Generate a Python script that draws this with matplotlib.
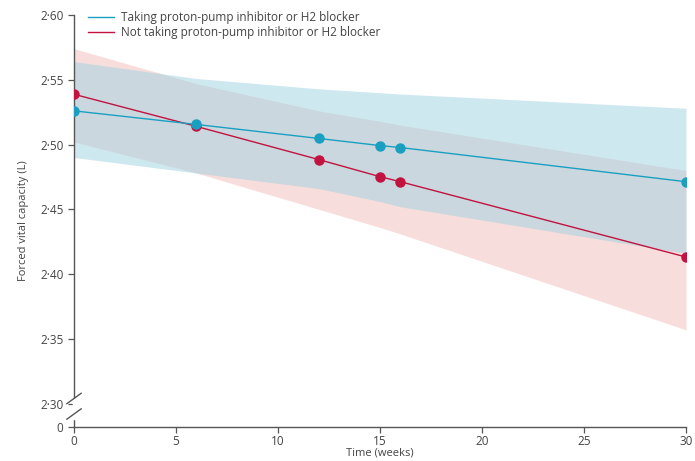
import numpy as np
import matplotlib.pyplot as plt

plt.rcParams['font.family'] = ['Open Sans', 'DejaVu Sans']

weeks = [0, 6, 12, 15, 16, 30]

# taking PPI / H2 blocker
taking = [2.526, 2.5155, 2.5047, 2.4992, 2.4977, 2.4713]
taking_hi = [2.564, 2.551, 2.543, 2.540, 2.539, 2.528]
taking_lo = [2.490, 2.478, 2.466, 2.456, 2.452, 2.416]

# not taking
nottaking = [2.5388, 2.514, 2.4884, 2.4752, 2.4713, 2.4132]
nottaking_hi = [2.574, 2.547, 2.526, 2.518, 2.515, 2.480]
nottaking_lo = [2.502, 2.478, 2.450, 2.436, 2.431, 2.357]

yticks = [2.30, 2.35, 2.40, 2.45, 2.50, 2.55, 2.60]
xticks = [0, 5, 10, 15, 20, 25, 30]
zero_pos = 2.282  # where the broken axis puts "0"

blue = '#1b9fc1'
red = '#c2123f'

fig = plt.figure(figsize=(6.95, 4.61), dpi=100)
ax = fig.add_axes([0.1065, 0.0738, 0.8805, 0.8937])

ax.fill_between(weeks, nottaking_lo, nottaking_hi, color='#f1bdb9', alpha=0.5, lw=0)
ax.fill_between(weeks, taking_lo, taking_hi, color='#9fd3e3', alpha=0.5, lw=0)

ax.plot(weeks, nottaking, color=red, lw=1.0, marker='o', ms=6.5, label='Not taking proton-pump inhibitor or H2 blocker', zorder=3)
ax.plot(weeks, taking, color=blue, lw=1.0, marker='o', ms=6.5, label='Taking proton-pump inhibitor or H2 blocker', zorder=4)

ax.set_xlim(0, 30)
ax.set_ylim(zero_pos, 2.60)
ax.set_xticks(xticks)
ax.set_xticklabels([str(x) for x in xticks])
ax.set_yticks(yticks + [zero_pos])
ax.set_yticklabels([('%.2f' % v).replace('.', '\u00b7') for v in yticks] + ['0'])

for s in ['top', 'right']:
    ax.spines[s].set_visible(False)
for s in ['left', 'bottom']:
    ax.spines[s].set_color('#555555')
    ax.spines[s].set_linewidth(1.0)
ax.tick_params(direction='out', length=4, width=0.9, colors='#555555', labelsize=8.5, labelcolor='#444444')
ax.tick_params(axis='x', pad=1.5)

# axis break marks
for dy in [0.0, 0.012]:
    ax.plot([-0.35, 0.35], [2.288 + dy, 2.296 + dy], color='#555555', lw=1.0, clip_on=False, zorder=6)
ax.plot([0, 0], [2.289, 2.303], color='white', lw=2.5, clip_on=False, zorder=5)

ax.set_xlabel('Time (weeks)', fontsize=8, color='#444444', labelpad=0)
ax.set_ylabel('Forced vital capacity (L)', fontsize=8, color='#444444', labelpad=8)

h, l = ax.get_legend_handles_labels()
leg = ax.legend(h[::-1], l[::-1], loc='upper left', bbox_to_anchor=(0.015, 1.02), frameon=False,
                fontsize=8.5, handlelength=2.2, handletextpad=0.6, labelspacing=0.15, borderaxespad=0)
for line in leg.get_lines():
    line.set_marker('')
for t in leg.get_texts():
    t.set_color('#444444')

fig.savefig('out.png', dpi=100)
